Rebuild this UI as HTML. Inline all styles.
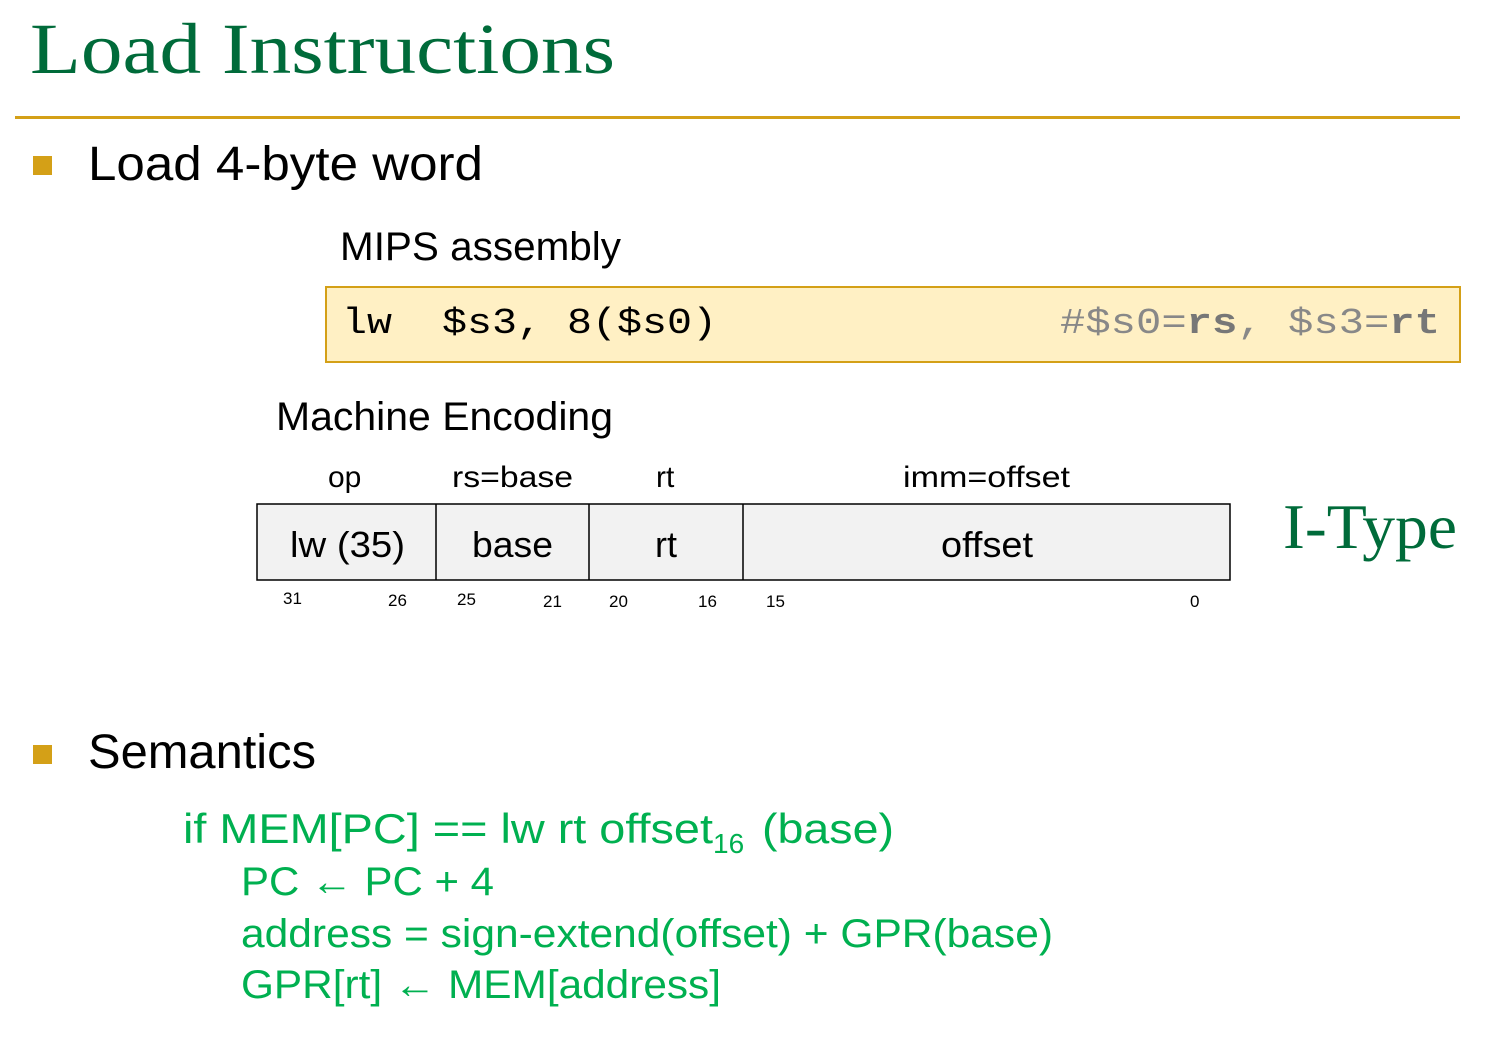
<!DOCTYPE html>
<html><head><meta charset="utf-8"><style>
html,body{margin:0;padding:0;background:#fff;}
svg{display:block;}
</style></head><body>
<svg width="1496" height="1045" xmlns="http://www.w3.org/2000/svg">
<text x="30" y="73" font-family="Liberation Serif, serif" font-size="72" fill="#006B3A" textLength="585" lengthAdjust="spacingAndGlyphs">Load Instructions</text>
<rect x="15" y="116" width="1445" height="3" fill="#D4A017"/>
<rect x="33" y="156" width="19" height="19" fill="#D4A017"/>
<text x="88" y="180" font-family="Liberation Sans, sans-serif" font-size="48" fill="#000" textLength="395" lengthAdjust="spacingAndGlyphs">Load 4-byte word</text>
<text x="340" y="260" font-family="Liberation Sans, sans-serif" font-size="40" fill="#000" textLength="281" lengthAdjust="spacingAndGlyphs">MIPS assembly</text>
<rect x="326" y="287" width="1134" height="75" fill="#FFF0C4" stroke="#D4A017" stroke-width="2"/>
<text x="342" y="333" font-family="Liberation Mono, monospace" font-size="36" fill="#000" xml:space="preserve" textLength="375" lengthAdjust="spacingAndGlyphs">lw  $s3, 8($s0)</text>
<text x="1060" y="333" font-family="Liberation Mono, monospace" font-size="36" fill="#888" xml:space="preserve" textLength="380" lengthAdjust="spacingAndGlyphs">#$s0=<tspan font-weight="bold" fill="#777">rs</tspan>, $s3=<tspan font-weight="bold" fill="#777">rt</tspan></text>
<text x="276" y="430" font-family="Liberation Sans, sans-serif" font-size="40" fill="#000" textLength="337" lengthAdjust="spacingAndGlyphs">Machine Encoding</text>
<g font-family="Liberation Sans, sans-serif" font-size="30" fill="#000">
<text x="328" y="487">op</text>
<text x="452" y="487" textLength="121" lengthAdjust="spacingAndGlyphs">rs=base</text>
<text x="656" y="487">rt</text>
<text x="903" y="487" textLength="167" lengthAdjust="spacingAndGlyphs">imm=offset</text>
</g>
<rect x="257" y="504" width="973" height="76" fill="#F2F2F2" stroke="#000" stroke-width="1.5"/>
<line x1="436" y1="504" x2="436" y2="580" stroke="#000" stroke-width="1.5"/>
<line x1="589" y1="504" x2="589" y2="580" stroke="#000" stroke-width="1.5"/>
<line x1="743" y1="504" x2="743" y2="580" stroke="#000" stroke-width="1.5"/>
<g font-family="Liberation Sans, sans-serif" font-size="36" fill="#000">
<text x="290" y="557" textLength="115" lengthAdjust="spacingAndGlyphs">lw (35)</text>
<text x="472" y="557" textLength="81" lengthAdjust="spacingAndGlyphs">base</text>
<text x="655" y="557">rt</text>
<text x="941" y="557" textLength="92" lengthAdjust="spacingAndGlyphs">offset</text>
</g>
<g font-family="Liberation Sans, sans-serif" font-size="17" fill="#000">
<text x="283" y="604">31</text><text x="388" y="606">26</text>
<text x="457" y="605">25</text><text x="543" y="607">21</text>
<text x="609" y="607">20</text><text x="698" y="607">16</text>
<text x="766" y="607">15</text><text x="1190" y="607">0</text>
</g>
<text x="1283" y="548" font-family="Liberation Serif, serif" font-size="64" fill="#006B3A" textLength="174" lengthAdjust="spacingAndGlyphs">I-Type</text>
<rect x="33" y="745" width="19" height="19" fill="#D4A017"/>
<text x="88" y="768" font-family="Liberation Sans, sans-serif" font-size="48" fill="#000" textLength="228" lengthAdjust="spacingAndGlyphs">Semantics</text>
<g font-family="Liberation Sans, sans-serif" fill="#00B050">
<text x="183" y="843" font-size="42" textLength="530" lengthAdjust="spacingAndGlyphs">if MEM[PC] == lw rt offset</text>
<text x="713" y="853" font-size="28">16</text>
<text x="762" y="843" font-size="42" textLength="132" lengthAdjust="spacingAndGlyphs">(base)</text>
<text x="241" y="895" font-size="40" textLength="253" lengthAdjust="spacingAndGlyphs">PC ← PC + 4</text>
<text x="241" y="947" font-size="40" textLength="812" lengthAdjust="spacingAndGlyphs">address = sign-extend(offset) + GPR(base)</text>
<text x="241" y="998" font-size="40" textLength="480" lengthAdjust="spacingAndGlyphs">GPR[rt] ← MEM[address]</text>
</g>
</svg>
</body></html>
